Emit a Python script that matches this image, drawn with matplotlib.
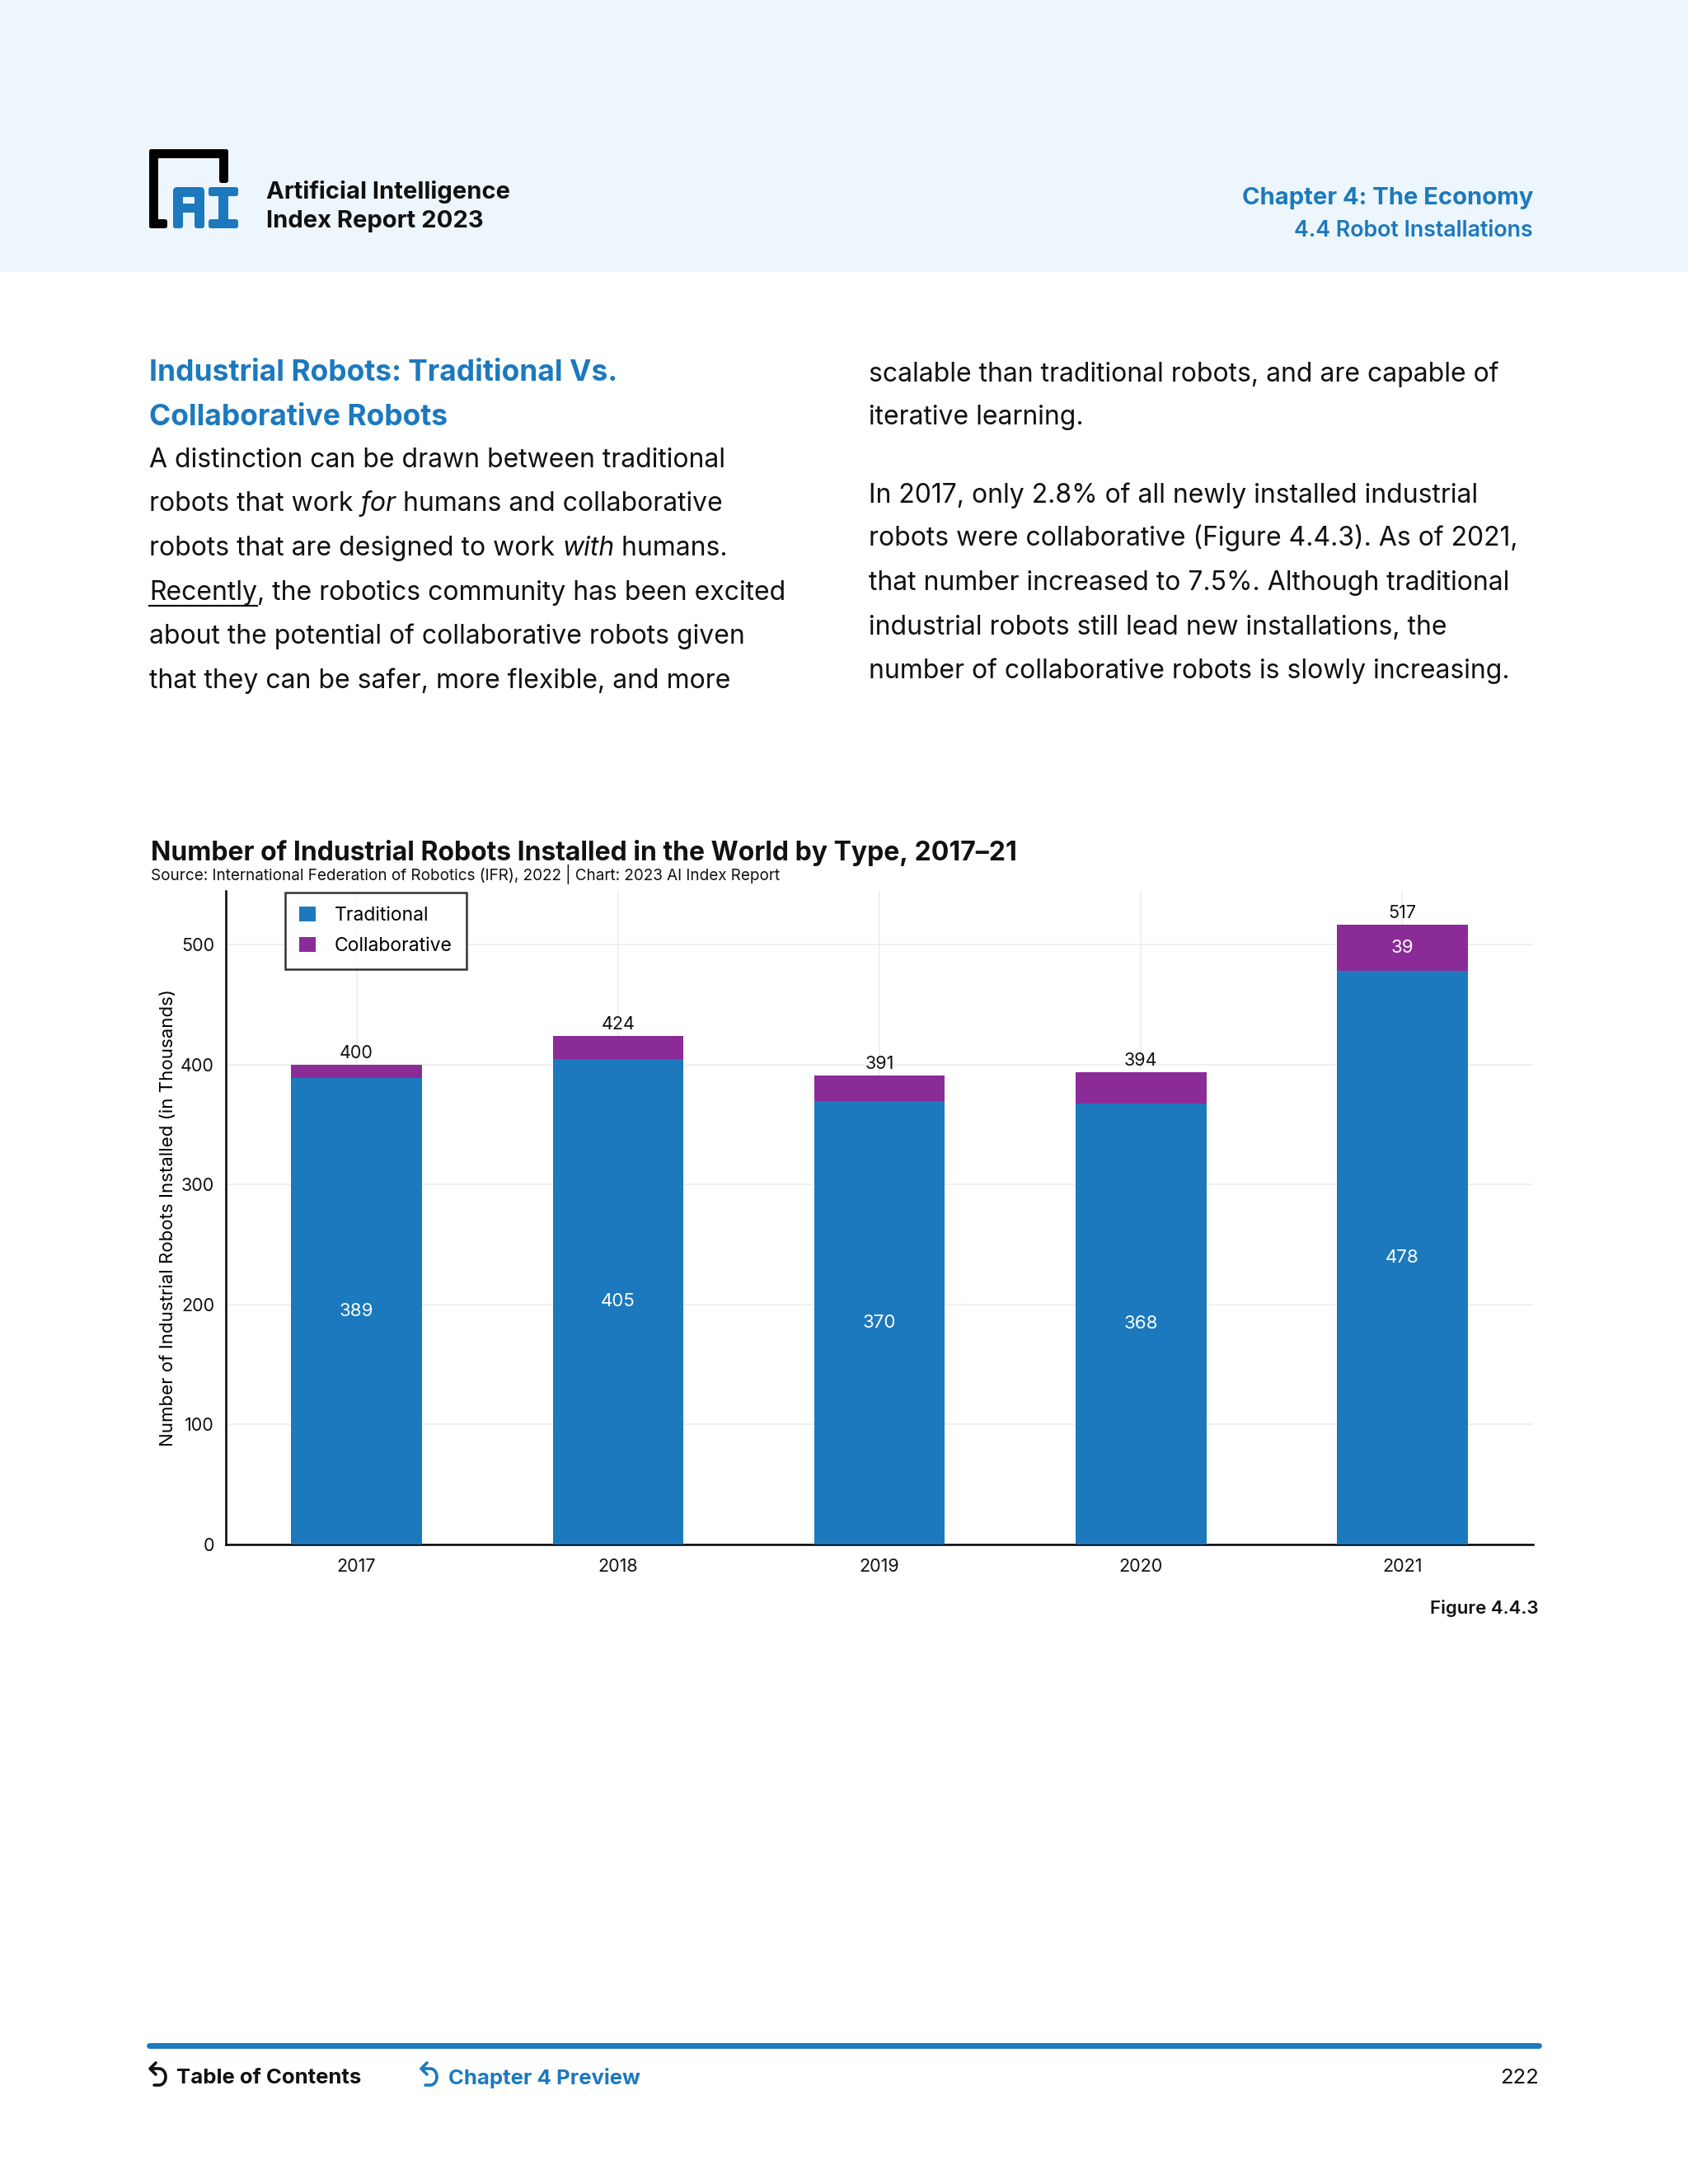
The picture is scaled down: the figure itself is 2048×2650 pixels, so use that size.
import matplotlib
matplotlib.use("Agg")
import matplotlib.pyplot as plt
from matplotlib.patches import Rectangle, FancyBboxPatch, Polygon
from matplotlib.lines import Line2D
import numpy as np

# ---------------- data ----------------
years = ["2017", "2018", "2019", "2020", "2021"]
traditional = [389, 405, 370, 368, 478]
collaborative = [11, 19, 21, 26, 39]
totals = [400, 424, 391, 394, 517]
y_ticks = [0, 100, 200, 300, 400, 500]

BLUE = "#1c79bd"
PURPLE = "#8b2b97"
HEAD_BG = "#eef6fd"
TXT = "#111111"

W, H = 2048, 2650
fig = plt.figure(figsize=(W / 100, H / 100), dpi=100)
fig.patch.set_facecolor("white")
FONT = ["Inter", "DejaVu Sans"]
plt.rcParams["font.family"] = FONT


def fx(x):
    return x / W


def fy(y):
    return 1 - y / H


def ft(x, y, s, **kw):
    kw.setdefault("va", "center")
    kw.setdefault("color", TXT)
    return fig.text(fx(x), fy(y), s, **kw)


def prect(x0, y0, x1, y1, color, rounding=0):
    """rectangle in page pixel coords (y downward)"""
    if rounding:
        p = FancyBboxPatch((fx(x0), fy(y1)), (x1 - x0) / W, (y1 - y0) / H,
                           boxstyle="round,pad=0,rounding_size=%f" % (rounding / W),
                           transform=fig.transFigure, facecolor=color, edgecolor="none",
                           mutation_aspect=W / H, zorder=2)
    else:
        p = Rectangle((fx(x0), fy(y1)), (x1 - x0) / W, (y1 - y0) / H,
                      transform=fig.transFigure, facecolor=color, edgecolor="none", zorder=2)
    fig.patches.append(p)


# ---------------- header ----------------
fig.patches.append(Rectangle((0, fy(330)), 1, 330 / H, transform=fig.transFigure,
                             facecolor=HEAD_BG, edgecolor="none", zorder=0))
# logo bracket (black)
prect(181, 181, 192, 277, "black", 3)
prect(181, 181, 277, 192, "black", 3)
prect(266, 181, 277, 222, "black", 3)
prect(181, 266, 203, 277, "black", 3)
# logo "AI" (blue blocks)
prect(210, 227, 248, 239, BLUE, 5)
prect(210, 229, 222, 277, BLUE, 3)
prect(236, 229, 248, 277, BLUE, 3)
prect(210, 247, 248, 258, BLUE)
prect(253, 227, 289, 238, BLUE, 3)
prect(253, 266, 289, 277, BLUE, 3)
prect(265, 227, 277, 277, BLUE)

ft(323, 233, "Artificial Intelligence", fontsize=21, fontweight="bold", ha="left")
ft(323, 269, "Index Report 2023", fontsize=21, fontweight="bold", ha="left")
ft(1860, 241, "Chapter 4: The Economy", fontsize=21, fontweight="bold", ha="right", color=BLUE)
ft(1860, 280, "4.4 Robot Installations", fontsize=19.3, fontweight="semibold", ha="right", color=BLUE)

# ---------------- body text ----------------
renderer = fig.canvas.get_renderer()
BODY = 23


def rich_line(x, y, parts):
    """parts: list of (text, style) where style in {'n','i','u'}"""
    cx = x
    for s, st in parts:
        kw = dict(fontsize=BODY, ha="left", va="baseline", color=TXT)
        if st == "i":
            kw["style"] = "italic"
        t = fig.text(fx(cx), fy(y), s, **kw)
        bb = t.get_window_extent(renderer=renderer)
        if st == "u":
            fig.lines.append(Line2D([fx(cx), fx(cx + bb.width)], [fy(y + 7), fy(y + 7)],
                                    transform=fig.transFigure, color=TXT, lw=1.6))
        cx += bb.width


ft(181, 452, "Industrial Robots: Traditional Vs.", fontsize=25.5, fontweight="bold", color=BLUE, ha="left")
ft(181, 506, "Collaborative Robots", fontsize=25.5, fontweight="bold", color=BLUE, ha="left")

left_lines = [
    [("A distinction can be drawn between traditional", "n")],
    [("robots that work ", "n"), ("for", "i"), (" humans and collaborative", "n")],
    [("robots that are designed to work ", "n"), ("with", "i"), (" humans.", "n")],
    [("Recently", "u"), (", the robotics community has been excited", "n")],
    [("about the potential of collaborative robots given", "n")],
    [("that they can be safer, more flexible, and more", "n")],
]
left_y = [567, 620, 674, 728, 781, 835]
for yy, parts in zip(left_y, left_lines):
    rich_line(181, yy, parts)

right_lines = [
    "scalable than traditional robots, and are capable of",
    "iterative learning.",
    "In 2017, only 2.8% of all newly installed industrial",
    "robots were collaborative (Figure 4.4.3). As of 2021,",
    "that number increased to 7.5%. Although traditional",
    "industrial robots still lead new installations, the",
    "number of collaborative robots is slowly increasing.",
]
right_y = [463, 515, 610, 662, 716, 770, 823]
for yy, s in zip(right_y, right_lines):
    rich_line(1054, yy, [(s, "n")])

# ---------------- chart ----------------
ft(183, 1035, "Number of Industrial Robots Installed in the World by Type, 2017\u201321",
   fontsize=23, fontweight="bold", ha="left")
ft(183, 1061, "Source: International Federation of Robotics (IFR), 2022 | Chart: 2023 AI Index Report",
   fontsize=13.6, ha="left")

ax = fig.add_axes([fx(274), fy(1874), (1860 - 274) / W, (1874 - 1081) / H])
x = np.arange(len(years))
bw = 0.5
ax.bar(x, traditional, width=bw, color=BLUE, label="Traditional", zorder=3)
ax.bar(x, collaborative, width=bw, bottom=traditional, color=PURPLE, label="Collaborative", zorder=3)

for i in range(len(years)):
    ax.text(x[i], traditional[i] / 2, str(traditional[i]), ha="center", va="center",
            color="white", fontsize=16)
    if collaborative[i] >= 30:
        ax.text(x[i], traditional[i] + collaborative[i] / 2, str(collaborative[i]),
                ha="center", va="center", color="white", fontsize=16)
    ax.annotate(str(totals[i]), (x[i], totals[i]), xytext=(0, 14), textcoords="offset pixels",
                ha="center", va="center", fontsize=15.5, color=TXT)

ax.set_xlim(-0.5, 4.5)
ax.set_ylim(0, 545)
ax.set_xticks(x)
ax.set_xticklabels(years, fontsize=15.5)
ax.set_yticks(y_ticks)
ax.set_yticklabels([str(v) for v in y_ticks], fontsize=15.5)
ax.tick_params(axis="both", length=0, colors=TXT)
ax.tick_params(axis="y", pad=10)
ax.tick_params(axis="x", pad=12)
for s in ["top", "right"]:
    ax.spines[s].set_visible(False)
for s in ["left", "bottom"]:
    ax.spines[s].set_color("black")
    ax.spines[s].set_linewidth(1.8)
ax.grid(True, color="#eeeeee", lw=1.2, zorder=0)
ax.set_axisbelow(True)
ax.set_ylabel("Number of Industrial Robots Installed (in Thousands)", fontsize=16, labelpad=4)

leg = ax.legend(loc="upper left", bbox_to_anchor=(fx(346), fy(1083)),
                bbox_transform=fig.transFigure, fontsize=16.5, frameon=True, fancybox=False,
                handlelength=0.85, handleheight=0.85, handletextpad=1.0, borderpad=0.75,
                labelspacing=0.65, borderaxespad=0)
leg.get_frame().set_edgecolor("black")
leg.get_frame().set_linewidth(1.8)

ft(1867, 1951, "Figure 4.4.3", fontsize=16, fontweight="semibold", ha="right")

# ---------------- footer ----------------
fig.lines.append(Line2D([fx(181), fx(1867)], [fy(2482), fy(2482)], transform=fig.transFigure,
                        color=BLUE, lw=5, solid_capstyle="round"))


def back_arrow(x0, color):
    # curved "return" arrow: head at top-left, curve down on the right
    yt, yb = 2510, 2530
    r = (yb - yt) / 2
    th = np.linspace(np.pi / 2, -np.pi / 2, 30)
    xs = [x0 + 3] + list(x0 + 12 + r * 0.8 * np.cos(th)) + [x0 + 6]
    ys = [yt] + list(yt + r - r * np.sin(th)) + [yb]
    fig.lines.append(Line2D([fx(v) for v in xs], [fy(v) for v in ys], transform=fig.transFigure,
                            color=color, lw=2.6, solid_capstyle="round"))
    fig.lines.append(Line2D([fx(x0 + 8), fx(x0 + 1), fx(x0 + 8)],
                            [fy(yt - 7), fy(yt), fy(yt + 7)], transform=fig.transFigure,
                            color=color, lw=2.6, solid_capstyle="round", solid_joinstyle="round"))


back_arrow(181, TXT)
ft(214, 2521, "Table of Contents", fontsize=18.5, fontweight="bold", ha="left")
back_arrow(510, BLUE)
ft(544, 2521, "Chapter 4 Preview", fontsize=18.5, fontweight="bold", ha="left", color=BLUE)
ft(1867, 2521, "222", fontsize=18.5, ha="right")

fig.savefig("out.png", dpi=100, facecolor=fig.get_facecolor())
